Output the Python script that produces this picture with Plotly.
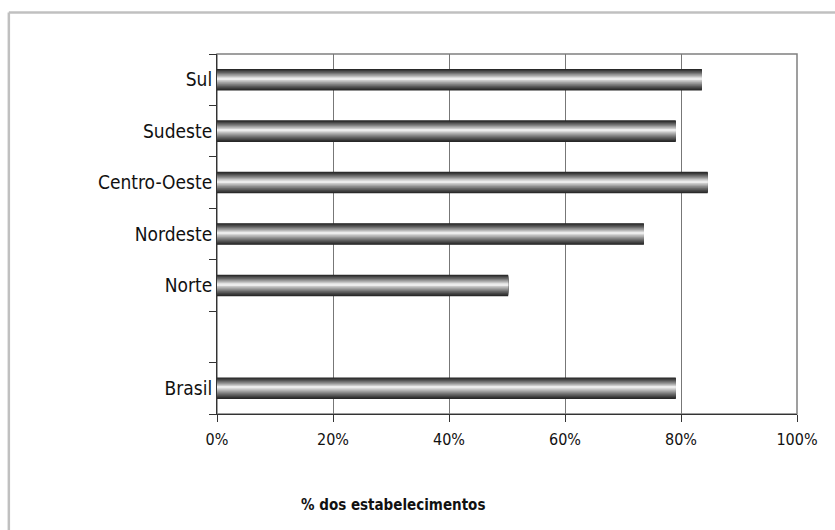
import plotly.graph_objects as go

# Regions, bottom to top; the blank entry leaves a gap above "Brasil"
categories = ["Brasil", " ", "Norte", "Nordeste", "Centro-Oeste", "Sudeste", "Sul"]
shares = [0.791, None, 0.502, 0.736, 0.846, 0.791, 0.836]

x_ticks = [0, 0.2, 0.4, 0.6, 0.8, 1.0]
x_title = "% dos estabelecimentos"

FONT = "DejaVu Sans Condensed, sans-serif"

W = 0.42        # bar thickness in category units
HL = 0.45       # highlight position, fraction of the bar from its top
N = 18          # shading layers

fig = go.Figure()

# Cylindrical shading: stacked, shrinking bars that converge on a light band
for k in range(N):
    t = k / N
    lum = int(38 + 212 * (t ** 1.15))
    lum = min(lum, 245)
    width = W * (1 - t)
    offset = -W / 2 + t * (1 - HL) * W
    fig.add_trace(go.Bar(
        x=shares, y=categories, orientation="h",
        width=width, offset=offset,
        marker=dict(color=f"rgb({lum},{lum},{lum})", line=dict(width=0)),
        hoverinfo="skip", showlegend=False,
    ))

fig.update_layout(
    width=835, height=530,
    margin=dict(l=216.5, r=37.5, t=54, b=116),
    paper_bgcolor="white", plot_bgcolor="white",
    barmode="overlay",
    font=dict(family=FONT, color="#111111"),
    xaxis=dict(
        range=[0, 1], tickvals=x_ticks, tickformat=".0%",
        showgrid=True, gridcolor="#777777", gridwidth=1,
        showline=True, linecolor="#333333", linewidth=1,
        ticks="outside", ticklen=7, tickcolor="#333333",
        tickfont=dict(size=16, family=FONT, color="#111111"),
        ticklabelstandoff=4, zeroline=False, fixedrange=True,
    ),
    yaxis=dict(
        type="category", categoryorder="array", categoryarray=categories,
        range=[-0.5, len(categories) - 0.5],
        tickson="boundaries", ticks="outside", ticklen=7, tickcolor="#333333",
        showgrid=False, showline=True, linecolor="#333333", linewidth=1,
        tickfont=dict(size=19, family=FONT, color="#111111"),
        zeroline=False, fixedrange=True,
    ),
    shapes=[
        # plot frame (top and right edges in grey)
        dict(type="rect", xref="paper", yref="paper", x0=0, x1=1, y0=0, y1=1,
             line=dict(color="#808080", width=1.5), layer="below"),
        # outer chart border
        dict(type="line", xref="paper", yref="paper",
             x0=-0.3589, x1=1.08, y0=1.1153, y1=1.1153,
             line=dict(color="#c0c0c0", width=2.5)),
        dict(type="line", xref="paper", yref="paper",
             x0=-0.3589, x1=-0.3589, y0=1.1153, y1=-0.35,
             line=dict(color="#c0c0c0", width=2.5)),
    ],
    annotations=[
        dict(text=f"<b>{x_title}</b>", xref="paper", yref="paper",
             x=0.304, y=-0.253, showarrow=False, xanchor="center", yanchor="middle",
             font=dict(size=15, family=FONT, color="#111111")),
    ],
)

fig.write_html("out.html")
